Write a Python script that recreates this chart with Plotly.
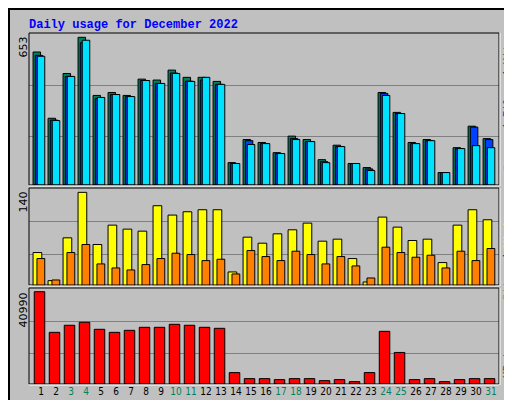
import plotly.graph_objects as go
from plotly.subplots import make_subplots

days = list(range(1, 32))
weekend_days = [3, 4, 10, 11, 17, 18, 24, 25, 31]

hits = [588, 295, 493, 653, 396, 409, 396, 468, 464, 508, 476, 476, 458, 99, 201, 188,
        143, 216, 201, 112, 176, 95, 77, 409, 321, 188, 201, 55, 165, 260, 205]
files = [573, 287, 480, 629, 383, 400, 391, 462, 449, 495, 459, 464, 445, 95, 196, 183,
         139, 205, 192, 103, 170, 95, 71, 405, 316, 183, 196, 55, 161, 256, 201]
pages = [569, 285, 480, 640, 387, 400, 391, 462, 449, 493, 458, 476, 445, 95, 179, 183,
         139, 201, 192, 99, 170, 95, 64, 396, 316, 183, 196, 55, 161, 174, 165]
visits = [50, 8, 72, 140, 62, 91, 85, 82, 120, 106, 111, 114, 114, 21, 73, 64,
          78, 84, 94, 67, 70, 41, 6, 103, 88, 68, 70, 35, 91, 114, 99]
sites = [41, 9, 50, 62, 33, 27, 24, 32, 41, 49, 47, 38, 40, 18, 53, 44,
         38, 52, 47, 33, 44, 30, 12, 58, 50, 43, 46, 27, 52, 38, 56]
kbytes = [40990, 22950, 26080, 27420, 24290, 22950, 23840, 25180, 25180, 26520, 26080,
          25180, 24730, 5070, 2380, 2380, 1940, 2380, 2380, 1490, 1940, 1040, 5070,
          23390, 14010, 1940, 2380, 1040, 1940, 2380, 2380]

C_HITS, C_FILES, C_PAGES = "#00805C", "#0040FF", "#00E0FF"
C_VISITS, C_SITES, C_KB = "#FFFF00", "#FF8000", "#FF0000"

# pixel -> paper helpers (plot area x 21..491, y 25..376)
def px(x):
    return (x - 21) / 470.0

def py(y):
    return (376 - y) / 351.0

fig = make_subplots(rows=3, cols=1, shared_xaxes=True, vertical_spacing=0.01)

def add_bar(vals, color, offset, width, row):
    fig.add_trace(go.Bar(x=days, y=vals, offset=offset, width=width,
                         marker=dict(color=color, line=dict(color="black", width=1)),
                         showlegend=False, hoverinfo="y"), row=row, col=1)

add_bar(hits, C_HITS, -0.53, 0.5, 1)
add_bar(files, C_FILES, -0.38, 0.5, 1)
add_bar(pages, C_PAGES, -0.25, 0.5, 1)
add_bar(visits, C_VISITS, -0.53, 0.58, 2)
add_bar(sites, C_SITES, -0.27, 0.52, 2)
add_bar(kbytes, C_KB, -0.45, 0.7, 3)

fig.update_layout(
    width=512, height=400, barmode="overlay",
    margin=dict(l=21, r=21, t=25, b=24),
    paper_bgcolor="#C0C0C0", plot_bgcolor="#C0C0C0",
    font=dict(family="DejaVu Sans", size=11, color="black"),
    xaxis=dict(domain=[0, 1]), yaxis=dict(domain=[py(177), 1]),
    yaxis2=dict(domain=[py(278), py(180)]), yaxis3=dict(domain=[0, py(280)]),
)

tick_text = ['<span style="color:%s">%d</span>' % (C_HITS if d in weekend_days else "black", d)
             for d in days]
for r in (1, 2, 3):
    fig.update_xaxes(range=[0.2, 31.53], showgrid=False, zeroline=False, showline=False,
                     ticks="", showticklabels=(r == 3), row=r, col=1)
fig.update_xaxes(tickvals=days, ticktext=tick_text, tickangle=0,
                 tickfont=dict(family="DejaVu Sans Condensed", size=10), row=3, col=1)

ymax = [672, 146.5, 42640]
for r in (1, 2, 3):
    top = ymax[r - 1]
    fig.update_yaxes(range=[0, top], tickvals=[top * 0.32, top * 0.655], showticklabels=False,
                     gridcolor="#808080", gridwidth=1, zeroline=False, ticks="",
                     row=r, col=1)

# panel frames
shapes = [dict(type="rect", xref="paper", yref="paper", x0=px(1), x1=px(510),
               y0=py(398), y1=py(1), line=dict(color="black", width=2))]
for top, bot in [(25, 177), (180, 277), (280, 376)]:
    shapes.append(dict(type="rect", xref="paper", yref="paper", x0=0, x1=1,
                       y0=py(bot), y1=py(top), line=dict(color="black", width=1)))
    shapes.append(dict(type="line", xref="paper", yref="paper", x0=0, x1=1,
                       y0=py(bot + 1), y1=py(bot + 1), line=dict(color="white", width=1)))
    shapes.append(dict(type="line", xref="paper", yref="paper", x0=px(492), x1=px(492),
                       y0=py(bot + 1), y1=py(top), line=dict(color="white", width=1)))
fig.update_layout(shapes=shapes)

ann = [
    dict(text="<b>Daily usage for December 2022</b>", x=px(19), y=py(8), xanchor="left",
         yanchor="top", font=dict(family="Liberation Mono", size=12, color="#0000FF")),
    dict(text="653", x=px(15), y=py(27), xanchor="center", yanchor="top", textangle=-90),
    dict(text="140", x=px(15), y=py(182), xanchor="center", yanchor="top", textangle=-90),
    dict(text="40990", x=px(15), y=py(283), xanchor="center", yanchor="top", textangle=-90),
    dict(text='<span style="color:%s">Pages</span> / <span style="color:%s">Files</span>'
              ' / <span style="color:%s">Hits</span>' % (C_PAGES, C_FILES, C_HITS),
         x=px(499), y=py(28), xanchor="center", yanchor="top", textangle=-90,
         font=dict(family="DejaVu Sans Mono", size=11)),
    dict(text='<span style="color:%s">Sites</span> / <span style="color:%s">Visits</span>'
              % (C_SITES, C_VISITS),
         x=px(499), y=py(198), xanchor="center", yanchor="top", textangle=-90,
         font=dict(family="DejaVu Sans Mono", size=11)),
    dict(text="KBytes", x=px(499), y=py(328), xanchor="center", yanchor="top", textangle=-90,
         font=dict(family="DejaVu Sans Mono", size=11, color=C_KB)),
]
for a in ann:
    a.setdefault("xref", "paper")
    a.setdefault("yref", "paper")
    a.setdefault("showarrow", False)
fig.update_layout(annotations=ann)

fig.write_html("out.html")
